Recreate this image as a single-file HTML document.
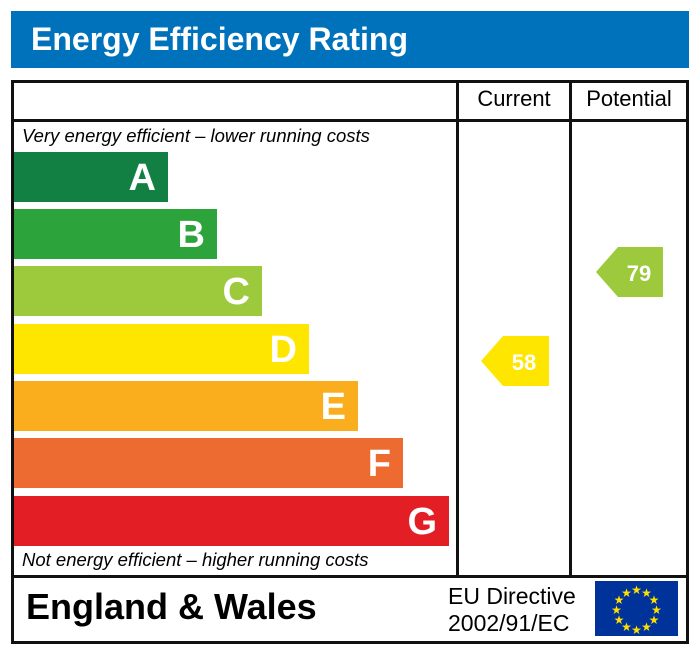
<!DOCTYPE html>
<html><head><style>
body{margin:0;background:#fff;width:700px;height:652px;position:relative;overflow:hidden;font-family:"Liberation Sans",Arial,sans-serif}
div{position:absolute;box-sizing:border-box}
.bar{left:14px;height:50px;color:#fff;font-weight:bold;font-size:38px;text-align:right;padding-right:12px;line-height:52px}
</style></head><body>
<div style="left:11px;top:11px;width:678px;height:57px;background:#0072bc;color:#fff;font-weight:bold;font-size:32px;line-height:56px;padding-left:20px;transform-origin:0 0">Energy Efficiency Rating</div>
<div style="left:11px;top:80px;width:678px;height:564px;border:3px solid #111"></div>
<div style="left:11px;top:119px;width:678px;height:3px;background:#111"></div>
<div style="left:11px;top:575px;width:678px;height:3px;background:#111"></div>
<div style="left:456px;top:80px;width:3px;height:497px;background:#111"></div>
<div style="left:569px;top:80px;width:3px;height:497px;background:#111"></div>
<div style="left:459px;top:86px;width:110px;text-align:center;font-size:22px">Current</div>
<div style="left:572px;top:86px;width:114px;text-align:center;font-size:22px">Potential</div>
<div style="left:22px;top:125px;font-size:18.5px;font-style:italic">Very energy efficient – lower running costs</div>
<div style="left:22px;top:549px;font-size:18.5px;font-style:italic">Not energy efficient – higher running costs</div>
<div class="bar" style="top:152px;width:154px;background:#128043">A</div>
<div class="bar" style="top:209px;width:203px;background:#2da33b">B</div>
<div class="bar" style="top:266px;width:248px;background:#9cca3c">C</div>
<div class="bar" style="top:324px;width:295px;background:#ffe600">D</div>
<div class="bar" style="top:381px;width:344px;background:#fbae1d">E</div>
<div class="bar" style="top:438px;width:389px;background:#ed6b31">F</div>
<div class="bar" style="top:496px;width:435px;background:#e31e25">G</div>
<svg style="position:absolute;left:0;top:0" width="700" height="652">
<polygon points="481,361 503,336 549,336 549,386 503,386" fill="#ffe600"/>
<text x="524" y="370" text-anchor="middle" font-family="Liberation Sans" font-weight="bold" font-size="22" fill="#fff">58</text>
<polygon points="596,272 618,247 663,247 663,297 618,297" fill="#9cca3c"/>
<text x="639" y="281" text-anchor="middle" font-family="Liberation Sans" font-weight="bold" font-size="22" fill="#fff">79</text>
<rect x="595" y="581" width="83" height="55" fill="#003399"/>
<g fill="#ffde00" font-size="12" text-anchor="middle" font-family="DejaVu Sans">
<text x="636.5" y="594">★</text><text x="646.5" y="597">★</text><text x="654" y="604">★</text><text x="656.5" y="614">★</text><text x="654" y="624">★</text><text x="646.5" y="631">★</text><text x="636.5" y="634">★</text><text x="626.5" y="631">★</text><text x="619" y="624">★</text><text x="616.5" y="614">★</text><text x="619" y="604">★</text><text x="626.5" y="597">★</text>
</g>
</svg>
<div style="left:26px;top:586px;font-size:36px;font-weight:bold">England &amp; Wales</div>
<div style="left:448px;top:583px;font-size:23px;line-height:27px">EU Directive<br>2002/91/EC</div>
</body></html>
